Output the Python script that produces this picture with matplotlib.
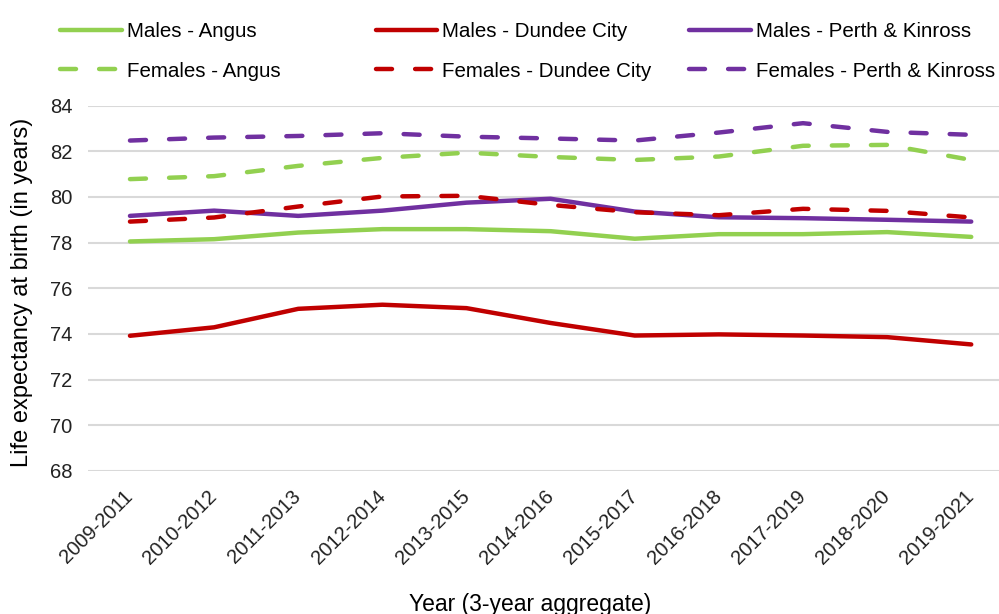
import matplotlib.pyplot as plt

plt.rcParams['font.family'] = ['Liberation Sans', 'DejaVu Sans']

years = ['2009-2011', '2010-2012', '2011-2013', '2012-2014', '2013-2015', '2014-2016',
         '2015-2017', '2016-2018', '2017-2019', '2018-2020', '2019-2021']

males_angus = [78.05, 78.15, 78.44, 78.59, 78.59, 78.5, 78.17, 78.37, 78.37, 78.46, 78.25]
males_dundee = [73.92, 74.29, 75.1, 75.28, 75.13, 74.48, 73.93, 73.98, 73.93, 73.86, 73.54]
males_perth = [79.17, 79.4, 79.17, 79.4, 79.75, 79.92, 79.36, 79.11, 79.07, 79.0, 78.92]
females_angus = [80.78, 80.91, 81.36, 81.71, 81.94, 81.75, 81.62, 81.77, 82.24, 82.28, 81.62]
females_dundee = [78.92, 79.1, 79.58, 80.02, 80.05, 79.65, 79.33, 79.2, 79.48, 79.39, 79.1]
females_perth = [82.47, 82.6, 82.67, 82.79, 82.64, 82.56, 82.47, 82.82, 83.23, 82.85, 82.72]

green = '#92D050'
red = '#C00000'
purple = '#7030A0'

fig = plt.figure(figsize=(9.99, 6.14), dpi=100)
ax = fig.add_axes([0.088, 0.233, 0.912, 0.595])

x = range(len(years))
lw = 3.2
series = [
    ('Males - Angus', males_angus, green, '-'),
    ('Males - Dundee City', males_dundee, red, '-'),
    ('Males - Perth & Kinross', males_perth, purple, '-'),
    ('Females - Angus', females_angus, green, '--'),
    ('Females - Dundee City', females_dundee, red, '--'),
    ('Females - Perth & Kinross', females_perth, purple, '--'),
]
lines = {}
for label, vals, col, ls in series:
    ln, = ax.plot(x, vals, color=col, lw=lw, solid_capstyle='round', label=label)
    if ls == '--':
        ln.set_dashes((3.6, 5.2))
        ln.set_dash_capstyle('round')
    lines[label] = ln

ax.set_ylim(68, 84)
ax.set_yticks(range(68, 85, 2))
ax.set_xlim(-0.5, 10.33)
ax.set_xticks(list(x))
ax.set_xticklabels(years, rotation=45, ha='right', va='center', rotation_mode='anchor')
ax.tick_params(axis='both', length=0, labelsize=14.5, colors='#222222')
ax.tick_params(axis='x', pad=16)
ax.tick_params(axis='y', pad=11)
ax.grid(axis='y', color='#D9D9D9', lw=1.5)
ax.set_axisbelow(True)
for s in ax.spines.values():
    s.set_visible(False)

ax.set_ylabel('Life expectancy at birth (in years)', fontsize=17, va='center')
ax.yaxis.set_label_coords(-0.0725, 0.49)
ax.set_xlabel('Year (3-year aggregate)', fontsize=16.5, va='center')
ax.xaxis.set_label_coords(0.485, -0.365)

# legend in three column groups, males on top row
groups = [('Angus', 0.060), ('Dundee City', 0.376), ('Perth & Kinross', 0.690)]
for name, xpos in groups:
    hs = [lines['Males - ' + name], lines['Females - ' + name]]
    fig.legend(handles=hs, loc='upper left', bbox_to_anchor=(xpos, 0.964),
               frameon=False, fontsize=14.8, handlelength=3.0, handletextpad=0.25,
               labelspacing=1.0, borderpad=0, borderaxespad=0)

fig.savefig('out.png', dpi=100)
